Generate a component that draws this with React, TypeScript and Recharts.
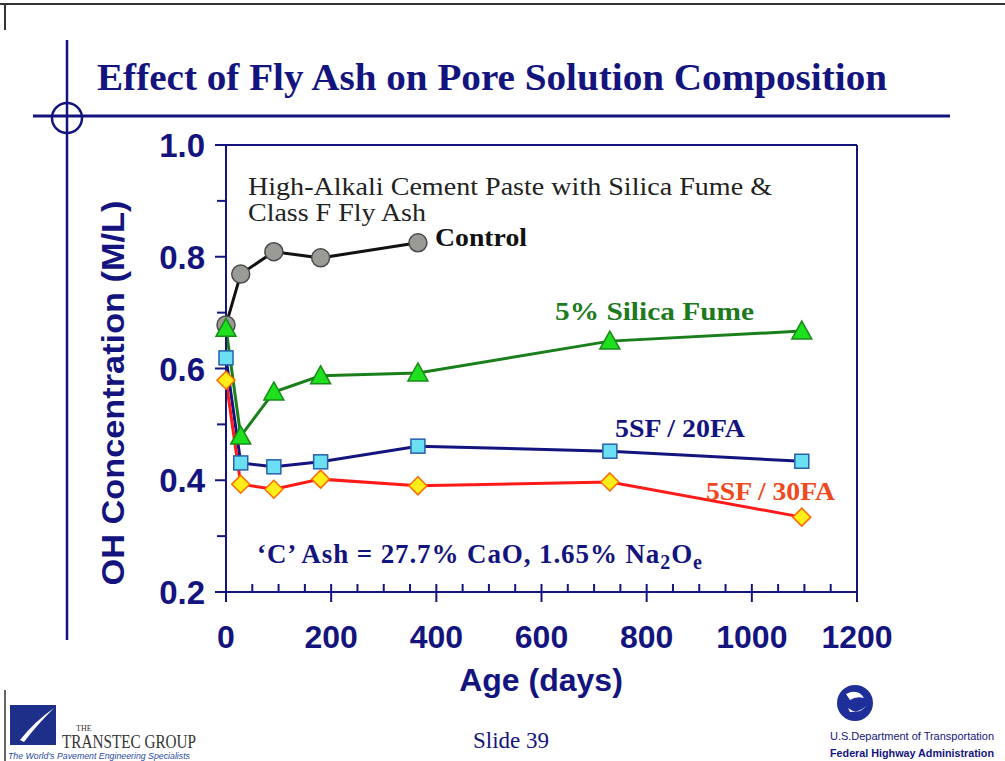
import React from 'react';
import { LineChart, Line, XAxis, YAxis, ReferenceLine } from 'recharts';

const NAVY = '#14147e';
const SANS = '"Liberation Sans", Arial, sans-serif';
const SERIF = '"Liberation Serif", "Times New Roman", serif';

// sampling ages (days)
const ages = [0, 28, 91, 180, 365, 730, 1095];
const control = [0.678, 0.769, 0.809, 0.798, 0.825];
const silicaFume = [0.672, 0.479, 0.558, 0.587, 0.592, 0.649, 0.667];
const sf20fa = [0.619, 0.431, 0.424, 0.433, 0.461, 0.452, 0.434];
const sf30fa = [0.579, 0.393, 0.384, 0.402, 0.39, 0.397, 0.334];

const xTicks = [0, 50, 100, 150, 200, 250, 300, 350, 400, 450, 500, 550, 600, 650, 700, 750, 800, 850, 900, 950, 1000, 1050, 1100, 1150, 1200];
const yTicks = [0.2, 0.3, 0.4, 0.5, 0.6, 0.7, 0.8, 0.9, 1.0];

const data = ages.map((age, i) => ({
  age,
  control: control[i],
  silica: silicaFume[i],
  fa20: sf20fa[i],
  fa30: sf30fa[i],
}));

const YTick = (props: any) => {
  const { x, y, payload } = props;
  const major = Math.round(payload.value * 10) % 2 === 0;
  return (
    <g>
      <line x1={x - (major ? 11 : 9)} x2={x} y1={y} y2={y} stroke={NAVY} strokeWidth={2} />
      {major && (
        <text x={x - 21} y={y} dy={12} textAnchor="end" fill={NAVY} fontFamily={SANS} fontWeight="bold" fontSize={33}>
          {payload.value.toFixed(1)}
        </text>
      )}
    </g>
  );
};

const XTick = (props: any) => {
  const { x, y, payload } = props;
  const major = payload.value % 200 === 0;
  return (
    <g>
      <line x1={x} x2={x} y1={y - 8} y2={major ? y + 10 : y} stroke={NAVY} strokeWidth={2} />
      {major && (
        <text x={x} y={y + 56} textAnchor="middle" fill={NAVY} fontFamily={SANS} fontWeight="bold" fontSize={32}>
          {payload.value}
        </text>
      )}
    </g>
  );
};

const CircleDot = (p: any) =>
  p.cy == null ? null : <circle cx={p.cx} cy={p.cy} r={9} fill="#9a9a97" stroke="#4a4a4a" strokeWidth={1.5} />;

const TriangleDot = (p: any) =>
  p.cy == null ? null : (
    <polygon
      points={`${p.cx},${p.cy - 10} ${p.cx + 10},${p.cy + 8} ${p.cx - 10},${p.cy + 8}`}
      fill="#1ee01e"
      stroke="#188a18"
      strokeWidth={1.5}
    />
  );

const SquareDot = (p: any) =>
  p.cy == null ? null : (
    <rect x={p.cx - 7} y={p.cy - 7} width={14} height={14} fill="#6be0f2" stroke="#2a5fae" strokeWidth={1.5} />
  );

const DiamondDot = (p: any) =>
  p.cy == null ? null : (
    <polygon
      points={`${p.cx},${p.cy - 9} ${p.cx + 9},${p.cy} ${p.cx},${p.cy + 9} ${p.cx - 9},${p.cy}`}
      fill="#ffee1a"
      stroke="#ff6a00"
      strokeWidth={1.5}
    />
  );

export default function App() {
  return (
    <div style={{ position: 'absolute', left: 0, top: 0, width: 1005, height: 761, background: '#fff', overflow: 'hidden' }}>
      <LineChart width={1005} height={761} data={data} margin={{ top: 145, right: 148, bottom: 119, left: 146 }}>
        <XAxis
          dataKey="age"
          type="number"
          domain={[0, 1200]}
          ticks={xTicks}
          interval={0}
          height={50}
          tickSize={0}
          tickMargin={0}
          tickLine={false}
          axisLine={{ stroke: NAVY, strokeWidth: 2 }}
          tick={<XTick />}
        />
        <YAxis
          type="number"
          domain={[0.2, 1.0]}
          ticks={yTicks}
          interval={0}
          width={80}
          tickSize={0}
          tickMargin={0}
          tickLine={false}
          axisLine={{ stroke: NAVY, strokeWidth: 2 }}
          tick={<YTick />}
        />
        <ReferenceLine y={1.0} stroke={NAVY} strokeWidth={2} />
        <ReferenceLine x={1200} stroke={NAVY} strokeWidth={2} />
        <Line dataKey="control" stroke="#111" strokeWidth={3} dot={<CircleDot />} isAnimationActive={false} />
        <Line dataKey="silica" stroke="#1a7f1a" strokeWidth={3} dot={<TriangleDot />} isAnimationActive={false} />
        <Line dataKey="fa20" stroke={NAVY} strokeWidth={3} dot={<SquareDot />} isAnimationActive={false} />
        <Line dataKey="fa30" stroke="#ff1a1a" strokeWidth={3} dot={<DiamondDot />} isAnimationActive={false} />
      </LineChart>

      <svg width={1005} height={761} style={{ position: 'absolute', left: 0, top: 0, pointerEvents: 'none' }}>
        {/* slide frame and decoration */}
        <line x1={0} x2={1005} y1={4} y2={4} stroke="#333" strokeWidth={2} />
        <line x1={5} x2={5} y1={4} y2={30} stroke="#333" strokeWidth={2} />
        <line x1={5} x2={5} y1={690} y2={761} stroke="#333" strokeWidth={1.5} />
        <line x1={67} x2={67} y1={40} y2={640} stroke={NAVY} strokeWidth={2.5} />
        <line x1={33} x2={950} y1={116} y2={116} stroke={NAVY} strokeWidth={3} />
        <circle cx={67} cy={118} r={15} fill="none" stroke={NAVY} strokeWidth={2.5} />

        <text x={97} y={90} textLength={790} lengthAdjust="spacingAndGlyphs" fill={NAVY} fontFamily={SERIF} fontWeight="bold" fontSize={37}>
          Effect of Fly Ash on Pore Solution Composition
        </text>

        {/* axis titles */}
        <text transform="translate(124,393) rotate(-90)" textAnchor="middle" textLength={385} lengthAdjust="spacingAndGlyphs" fill={NAVY} fontFamily={SANS} fontWeight="bold" fontSize={31}>
          OH Concentration (M/L)
        </text>
        <text x={541} y={691} textAnchor="middle" fill={NAVY} fontFamily={SANS} fontWeight="bold" fontSize={32}>
          Age (days)
        </text>

        {/* annotations */}
        <text x={248} y={195} textLength={524} lengthAdjust="spacingAndGlyphs" fill="#222" fontFamily={SERIF} fontSize={25}>
          High-Alkali Cement Paste with Silica Fume &amp;
        </text>
        <text x={248} y={221} textLength={178} lengthAdjust="spacingAndGlyphs" fill="#222" fontFamily={SERIF} fontSize={25}>
          Class F Fly Ash
        </text>
        <text x={435} y={246} textLength={92} lengthAdjust="spacingAndGlyphs" fill="#111" fontFamily={SERIF} fontWeight="bold" fontSize={26}>
          Control
        </text>
        <text x={555} y={320} textLength={199} lengthAdjust="spacingAndGlyphs" fill="#1e7a1e" fontFamily={SERIF} fontWeight="bold" fontSize={26}>
          5% Silica Fume
        </text>
        <text x={615} y={437} textLength={130} lengthAdjust="spacingAndGlyphs" fill={NAVY} fontFamily={SERIF} fontWeight="bold" fontSize={26}>
          5SF / 20FA
        </text>
        <text x={706} y={500} textLength={129} lengthAdjust="spacingAndGlyphs" fill="#ee4a1e" fontFamily={SERIF} fontWeight="bold" fontSize={26}>
          5SF / 30FA
        </text>
        <text x={257} y={563} fill={NAVY} fontFamily={SERIF} fontWeight="bold" fontSize={27} letterSpacing={0.9}>
          ‘C’ Ash = 27.7% CaO, 1.65% Na
          <tspan fontSize={20} dy={6}>2</tspan>
          <tspan fontSize={27} dy={-6}>O</tspan>
          <tspan fontSize={20} dy={6}>e</tspan>
        </text>

        {/* footer */}
        <text x={511} y={748} textAnchor="middle" fill={NAVY} fontFamily={SERIF} fontSize={23}>
          Slide 39
        </text>
        <rect x={10} y={705} width={46} height={40} fill="#1e2f8a" />
        <path d="M20,740 Q34,722 54,708 Q36,726 24,742 Z" fill="#fff" />
        <text x={76} y={731} fill="#333" fontFamily={SERIF} fontSize={8}>THE</text>
        <text x={62} y={748} textLength={134} lengthAdjust="spacingAndGlyphs" fill="#333" fontFamily={SERIF} fontSize={19}>
          TRANSTEC GROUP
        </text>
        <text x={8} y={759} textLength={182} lengthAdjust="spacingAndGlyphs" fill="#2a4aa0" fontFamily={SANS} fontStyle="italic" fontSize={9}>
          The World's Pavement Engineering Specialists
        </text>
        <circle cx={855} cy={703} r={18} fill="#1e2f9a" />
        <path d="M846,694 Q858,688 864,698 Q856,696 850,700 Z M848,708 Q858,716 866,706 Q860,712 850,712 Z" fill="#fff" />
        <text x={830} y={740} textLength={164} lengthAdjust="spacingAndGlyphs" fill={NAVY} fontFamily={SANS} fontSize={10.5}>U.S.Department of Transportation</text>
        <text x={830} y={757} textLength={164} lengthAdjust="spacingAndGlyphs" fill={NAVY} fontFamily={SANS} fontWeight="bold" fontSize={10.5}>Federal Highway Administration</text>
      </svg>
    </div>
  );
}
